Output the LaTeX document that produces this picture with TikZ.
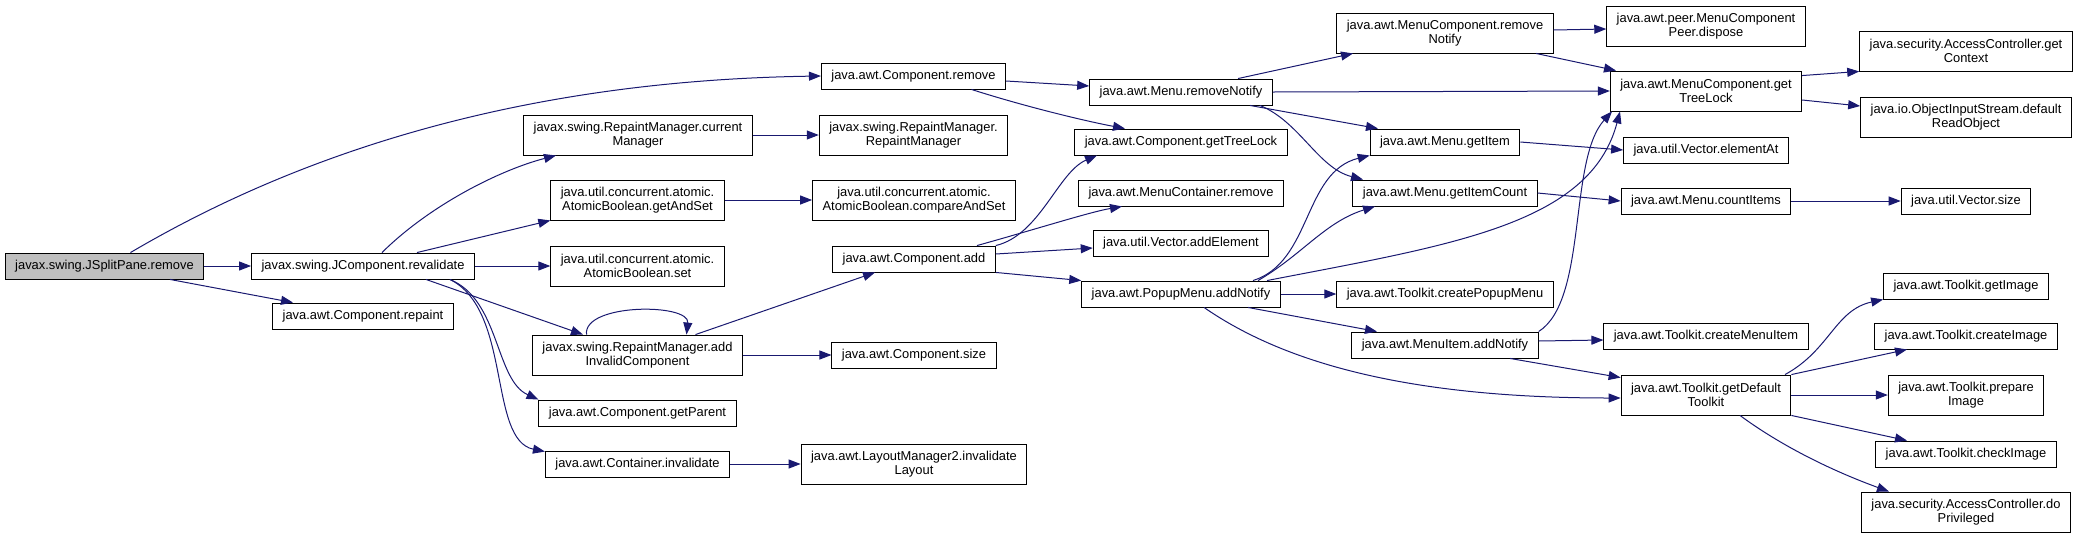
\documentclass[tikz,border=0pt]{standalone}
\usepackage{fontspec}
\setmainfont{Liberation Sans}
\usetikzlibrary{arrows.meta}
\definecolor{edgeblue}{HTML}{191970}
\definecolor{rootgray}{HTML}{BFBFBF}

\begin{document}
\begin{tikzpicture}[x=1pt, y=-1pt,
  fn/.style={draw, fill=white, line width=0.9pt, inner xsep=10pt, inner ysep=2pt, minimum height=26pt, align=center, font=\fontsize{12.9}{14}\selectfont},
  fntwo/.style={fn, minimum height=40pt},
  rootfn/.style={fn, fill=rootgray},
  call/.style={draw=edgeblue, line width=1pt, -{Triangle[length=12pt,width=9pt]}}]
\useasboundingbox (0,0) rectangle (2081,539);

\node[rootfn] (split) at (104.5,266) {javax.swing.JSplitPane.remove};
\node[fn] (revalidate) at (363,266) {javax.swing.JComponent.revalidate};
\node[fn] (repaint) at (363,316) {java.awt.Component.repaint};

\node[fntwo] (currentManager) at (638,135) {javax.swing.RepaintManager.current\\Manager};
\node[fntwo] (getAndSet) at (637.5,200) {java.util.concurrent.atomic.\\AtomicBoolean.getAndSet};
\node[fntwo] (abSet) at (637.5,266) {java.util.concurrent.atomic.\\AtomicBoolean.set};
\node[fntwo] (addInvalid) at (637.5,355) {javax.swing.RepaintManager.add\\InvalidComponent};
\node[fn] (getParent) at (637.5,413) {java.awt.Component.getParent};
\node[fn] (contInvalidate) at (637.5,464) {java.awt.Container.invalidate};

\node[fn] (compRemove) at (913.5,76) {java.awt.Component.remove};
\node[fntwo] (rmCtor) at (913.5,135) {javax.swing.RepaintManager.\\RepaintManager};
\node[fntwo] (compareAndSet) at (914,200) {java.util.concurrent.atomic.\\AtomicBoolean.compareAndSet};
\node[fn] (compAdd) at (914,259) {java.awt.Component.add};
\node[fn] (compSize) at (914,355) {java.awt.Component.size};
\node[fntwo] (invalidateLayout) at (914,464) {java.awt.LayoutManager2.invalidate\\Layout};

\node[fn] (menuRemoveNotify) at (1181,92) {java.awt.Menu.removeNotify};
\node[fn] (compTreeLock) at (1181,142) {java.awt.Component.getTreeLock};
\node[fn] (mcRemove) at (1181,193) {java.awt.MenuContainer.remove};
\node[fn] (addElement) at (1181,243) {java.util.Vector.addElement};
\node[fn] (popupAddNotify) at (1181,294) {java.awt.PopupMenu.addNotify};

\node[fntwo] (mcRemoveNotify) at (1445,33) {java.awt.MenuComponent.remove\\Notify};
\node[fn] (getItem) at (1445,142) {java.awt.Menu.getItem};
\node[fn] (getItemCount) at (1445,193) {java.awt.Menu.getItemCount};
\node[fn] (createPopupMenu) at (1445,294) {java.awt.Toolkit.createPopupMenu};
\node[fn] (menuItemAddNotify) at (1445,345) {java.awt.MenuItem.addNotify};

\node[fntwo] (peerDispose) at (1706,26) {java.awt.peer.MenuComponent\\Peer.dispose};
\node[fntwo] (mcTreeLock) at (1706,91) {java.awt.MenuComponent.get\\TreeLock};
\node[fn] (elementAt) at (1706,150) {java.util.Vector.elementAt};
\node[fn] (countItems) at (1706,201) {java.awt.Menu.countItems};
\node[fn] (createMenuItem) at (1706,336) {java.awt.Toolkit.createMenuItem};
\node[fntwo] (defaultToolkit) at (1706,395) {java.awt.Toolkit.getDefault\\Toolkit};

\node[fntwo] (getContext) at (1966,51) {java.security.AccessController.get\\Context};
\node[fntwo] (readObject) at (1966,117) {java.io.ObjectInputStream.default\\ReadObject};
\node[fn] (vectorSize) at (1966,201) {java.util.Vector.size};
\node[fn] (getImage) at (1966,286) {java.awt.Toolkit.getImage};
\node[fn] (createImage) at (1966,336) {java.awt.Toolkit.createImage};
\node[fntwo] (prepareImage) at (1966,395) {java.awt.Toolkit.prepare\\Image};
\node[fn] (checkImage) at (1966,454) {java.awt.Toolkit.checkImage};
\node[fntwo] (doPrivileged) at (1966,512) {java.security.AccessController.do\\Privileged};

\draw[call] ([xshift=26pt]split.north) .. controls (330,135) and (560,80) .. (compRemove.west);
\draw[call] (split.east) -- (revalidate.west);
\draw[call] ([xshift=65.5pt]split.south) -- ([xshift=-70pt]repaint.north);

\draw[call] ([xshift=19pt]revalidate.north) .. controls (430,205) and (500,170) .. ([xshift=-82pt]currentManager.south);
\draw[call] ([xshift=54pt]revalidate.north) -- (getAndSet.south west);
\draw[call] (revalidate.east) -- (abSet.west);
\draw[call] ([xshift=63pt]revalidate.south) -- ([xshift=-54.5pt]addInvalid.north);
\draw[call] ([xshift=-25pt]revalidate.south east) .. controls (500,300) and (495,380) .. (getParent.north west);
\draw[call] ([xshift=-25pt]revalidate.south east) .. controls (512,310) and (488,440) .. ([yshift=-1pt]contInvalidate.north west);

\draw[call] (currentManager.east) -- (rmCtor.west);
\draw[call] (getAndSet.east) -- (compareAndSet.west);
\draw[call] ([xshift=-51pt]addInvalid.north) .. controls (583,303) and (690,303) .. ([xshift=49pt]addInvalid.north);
\draw[call] ([xshift=58pt]addInvalid.north) -- ([xshift=-39pt]compAdd.south);
\draw[call] (addInvalid.east) -- (compSize.west);
\draw[call] (contInvalidate.east) -- (invalidateLayout.west);

\draw[call] ([yshift=-5pt]compRemove.east) -- ([yshift=6pt]menuRemoveNotify.west);
\draw[call] ([xshift=58pt]compRemove.south) .. controls (1020,105) and (1080,120) .. ([xshift=-56pt]compTreeLock.north);
\draw[call] (compAdd.north east) .. controls (1040,235) and (1058,172) .. ([xshift=-84pt]compTreeLock.south);
\draw[call] ([xshift=63pt]compAdd.north) .. controls (1040,228) and (1090,212) .. ([xshift=-59pt]mcRemove.south);
\draw[call] ([yshift=5pt]compAdd.east) -- ([yshift=-5pt]addElement.west);
\draw[call] (compAdd.south east) -- (popupAddNotify.north west);

\draw[call] ([xshift=57pt]menuRemoveNotify.north) -- ([xshift=-92pt]mcRemoveNotify.south);
\draw[call] (menuRemoveNotify.east) -- (mcTreeLock.west);
\draw[call] ([xshift=69pt]menuRemoveNotify.south) -- ([xshift=-67pt]getItem.north);
\draw[call] ([xshift=79pt]menuRemoveNotify.south) .. controls (1300,122) and (1318,168) .. ([xshift=-82pt]getItemCount.north);

\draw[call] ([yshift=3pt]mcRemoveNotify.east) -- ([yshift=-3pt]peerDispose.west);
\draw[call] ([xshift=91pt]mcRemoveNotify.south) -- ([xshift=-90pt]mcTreeLock.north);
\draw[call] ([yshift=-5pt]mcTreeLock.north east) -- (getContext.south west);
\draw[call] ([yshift=-9pt]mcTreeLock.east) -- ([yshift=11pt]readObject.west);
\draw[call] (getItem.east) -- (elementAt.west);
\draw[call] (getItemCount.east) -- (countItems.west);
\draw[call] (countItems.east) -- (vectorSize.west);

\draw[call] ([xshift=72pt]popupAddNotify.north) .. controls (1312,262) and (1303,172) .. (getItem.south west);
\draw[call] ([xshift=77pt]popupAddNotify.north) .. controls (1302,255) and (1325,222) .. ([xshift=-70pt]getItemCount.south);
\draw[call] ([xshift=86pt]popupAddNotify.north) .. controls (1450,245) and (1590,225) .. ([xshift=-86pt]mcTreeLock.south);
\draw[call] (popupAddNotify.east) -- (createPopupMenu.west);
\draw[call] ([xshift=67pt]popupAddNotify.south) -- ([xshift=-68pt]menuItemAddNotify.north);
\draw[call] ([xshift=23pt]popupAddNotify.south) .. controls (1280,360) and (1400,398) .. ([yshift=-3pt]defaultToolkit.west);

\draw[call] (menuItemAddNotify.north east) .. controls (1588,300) and (1568,160) .. ([xshift=-94pt]mcTreeLock.south);
\draw[call] ([yshift=4pt]menuItemAddNotify.east) -- ([yshift=-4pt]createMenuItem.west);
\draw[call] ([xshift=65pt]menuItemAddNotify.south) -- ([yshift=-3pt]defaultToolkit.north west);

\draw[call] ([xshift=79pt]defaultToolkit.north) .. controls (1830,350) and (1835,310) .. (getImage.south west);
\draw[call] (defaultToolkit.north east) -- ([xshift=-59pt]createImage.south);
\draw[call] (defaultToolkit.east) -- (prepareImage.west);
\draw[call] (defaultToolkit.south east) -- ([xshift=-59pt]checkImage.north);
\draw[call] ([xshift=34pt]defaultToolkit.south) .. controls (1780,445) and (1830,470) .. ([xshift=-77pt]doPrivileged.north);
\end{tikzpicture}
\end{document}
